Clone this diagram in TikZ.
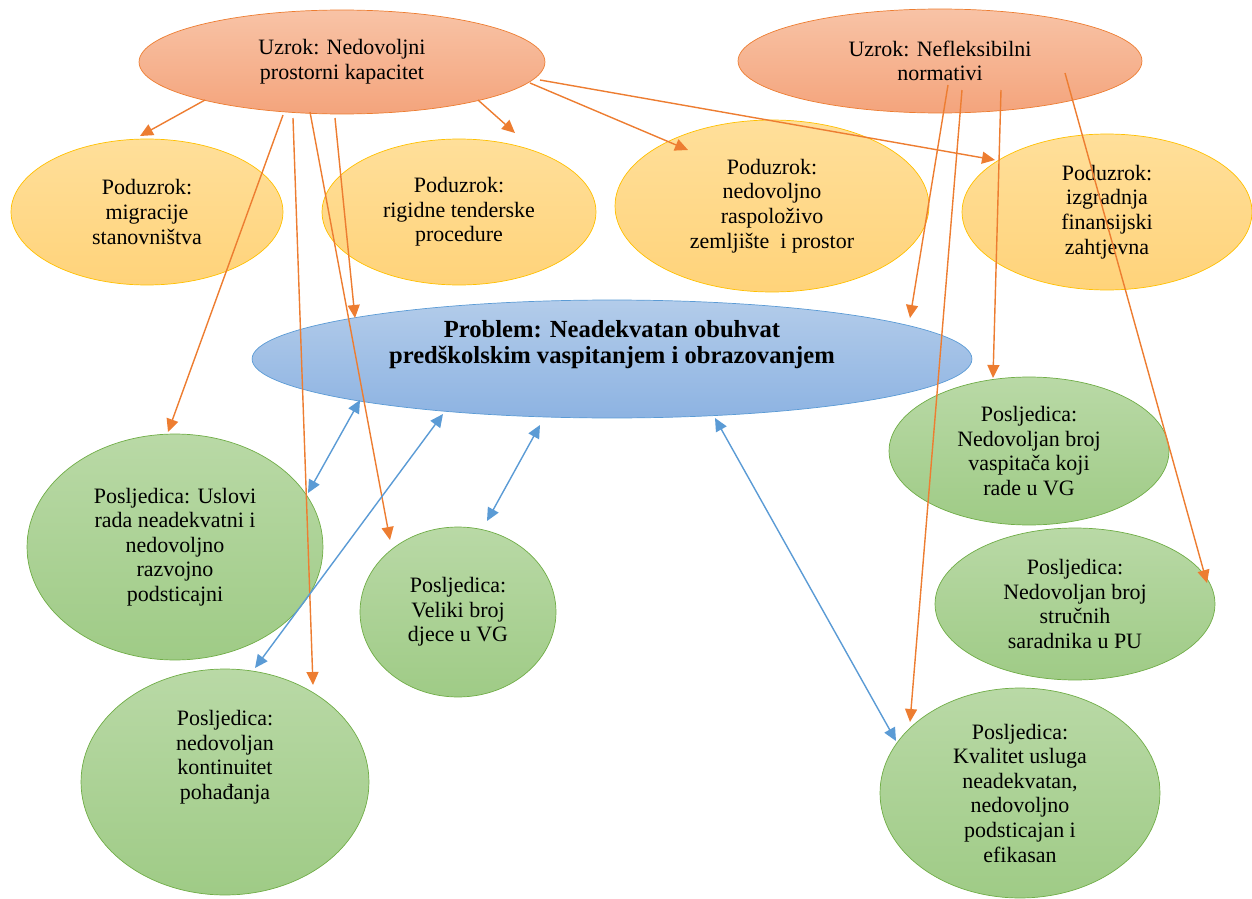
\documentclass[tikz,border=0pt]{standalone}
\usepackage{fontspec}
\setmainfont{Liberation Serif}
\usetikzlibrary{shapes.geometric,arrows.meta}

\definecolor{uzrokline}{HTML}{ED7D31}
\definecolor{uzroktop}{HTML}{F8C3A6}
\definecolor{uzrokbot}{HTML}{F4A47C}
\definecolor{podline}{HTML}{FFC000}
\definecolor{podtop}{HTML}{FFDF9A}
\definecolor{podbot}{HTML}{FFD37A}
\definecolor{probline}{HTML}{5B9BD5}
\definecolor{probtop}{HTML}{B3CCEA}
\definecolor{probbot}{HTML}{8DB3E2}
\definecolor{posline}{HTML}{70AD47}
\definecolor{postop}{HTML}{B9D9A6}
\definecolor{posbot}{HTML}{9FCB86}

\begin{document}
\begin{tikzpicture}[x=0.02cm,y=-0.02cm,
    uzrok/.style={ellipse,draw=uzrokline,top color=uzroktop,bottom color=uzrokbot,inner sep=0pt,align=center,font=\fontsize{12.5}{14}\selectfont},
    poduzrok/.style={ellipse,draw=podline,top color=podtop,bottom color=podbot,inner sep=0pt,align=center,font=\fontsize{12.5}{14}\selectfont},
    problem/.style={ellipse,draw=probline,top color=probtop,bottom color=probbot,inner sep=0pt,align=center,font=\fontsize{14}{15}\selectfont\bfseries},
    posljedica/.style={ellipse,draw=posline,top color=postop,bottom color=posbot,inner sep=0pt,align=center,font=\fontsize{12.5}{14}\selectfont},
    uzarrow/.style={draw=uzrokline,line width=0.8pt,-{Triangle[length=2.6mm,width=2.4mm]}},
    vezarrow/.style={draw=probline,line width=0.8pt,{Triangle[length=2.6mm,width=2.4mm]}-{Triangle[length=2.6mm,width=2.4mm]}}]

  \useasboundingbox (0,0) rectangle (1252,899);

  % uzroci
  \node[uzrok,minimum width=8.12cm,minimum height=2.08cm] (u1) at (342,62) {Uzrok: Nedovoljni\\prostorni kapacitet};
  \node[uzrok,minimum width=8.08cm,minimum height=2.08cm] (u2) at (940,61) {Uzrok: Nefleksibilni\\normativi};

  % poduzroci
  \node[poduzrok,minimum width=5.44cm,minimum height=2.92cm] (p1) at (147,212) {Poduzrok:\\migracije\\stanovništva};
  \node[poduzrok,minimum width=5.48cm,minimum height=2.92cm] (p2) at (459,212) {Poduzrok:\\rigidne tenderske\\procedure};
  \node[poduzrok,minimum width=6.28cm,minimum height=3.44cm] (p3) at (772,206) {Poduzrok:\\nedovoljno\\raspoloživo\\zemljište~ i prostor};
  \node[poduzrok,minimum width=5.8cm,minimum height=3.12cm] (p4) at (1107,212) {Poduzrok:\\izgradnja\\finansijski\\zahtjevna};

  % problem
  \node[problem,minimum width=14.4cm,minimum height=2.36cm] (pr) at (612,359) {Problem: Neadekvatan obuhvat\\predškolskim vaspitanjem i obrazovanjem\\[1.5mm]};

  % posljedice
  \node[posljedica,minimum width=5.92cm,minimum height=4.52cm] (c1) at (175,547) {Posljedica: Uslovi\\rada neadekvatni i\\nedovoljno\\razvojno\\podsticajni};
  \node[posljedica,minimum width=3.92cm,minimum height=3.4cm] (c2) at (458,612) {Posljedica:\\Veliki broj\\djece u VG};
  \node[posljedica,minimum width=5.76cm,minimum height=4.52cm] (c3) at (225,782) {Posljedica:\\nedovoljan\\kontinuitet\\pohađanja\\[6mm]};
  \node[posljedica,minimum width=5.6cm,minimum height=2.96cm] (c4) at (1029,451) {Posljedica:\\Nedovoljan broj\\vaspitača koji\\rade u VG};
  \node[posljedica,minimum width=5.6cm,minimum height=3.04cm] (c5) at (1075,604) {Posljedica:\\Nedovoljan broj\\stručnih\\saradnika u PU};
  \node[posljedica,minimum width=5.6cm,minimum height=4.2cm] (c6) at (1020,793) {Posljedica:\\Kvalitet usluga\\neadekvatan,\\nedovoljno\\podsticajan i\\efikasan};

  % strelice od prvog uzroka
  \draw[uzarrow] ([shift={(-137,38)}]u1.center) -- ([shift={(-7,-76)}]p1.center);
  \draw[uzarrow] ([shift={(136,38)}]u1.center) -- ([shift={(56,-79)}]p2.center);
  \draw[uzarrow] ([shift={(188,21)}]u1.center) -- ([shift={(-84,-56)}]p3.center);
  \draw[uzarrow] ([shift={(198,18)}]u1.center) -- ([shift={(-112,-52)}]p4.center);
  \draw[uzarrow] ([shift={(-59,53)}]u1.center) -- ([shift={(-7,-115)}]c1.center);
  \draw[uzarrow] ([shift={(-49,56)}]u1.center) -- ([shift={(88,-97)}]c3.center);
  \draw[uzarrow] ([shift={(-32,50)}]u1.center) -- ([shift={(-68,-72)}]c2.center);
  \draw[uzarrow] ([shift={(-7,56)}]u1.center) -- ([shift={(-257,-41)}]pr.center);

  % strelice od drugog uzroka
  \draw[uzarrow] ([shift={(8,24)}]u2.center) -- ([shift={(298,-41)}]pr.center);
  \draw[uzarrow] ([shift={(22,29)}]u2.center) -- ([shift={(-110,-71)}]c6.center);
  \draw[uzarrow] ([shift={(61,29)}]u2.center) -- ([shift={(-36,-73)}]c4.center);
  \draw[uzarrow] ([shift={(125,12)}]u2.center) -- ([shift={(132,-21)}]c5.center);

  % veze problem - posljedice
  \draw[vezarrow] ([shift={(-252,41)}]pr.center) -- ([shift={(133,-54)}]c1.center);
  \draw[vezarrow] ([shift={(-169,55)}]pr.center) -- ([shift={(30,-114)}]c3.center);
  \draw[vezarrow] ([shift={(-72,66)}]pr.center) -- ([shift={(29,-91)}]c2.center);
  \draw[vezarrow] ([shift={(103,59)}]pr.center) -- ([shift={(-124,-52)}]c6.center);

\end{tikzpicture}
\end{document}
